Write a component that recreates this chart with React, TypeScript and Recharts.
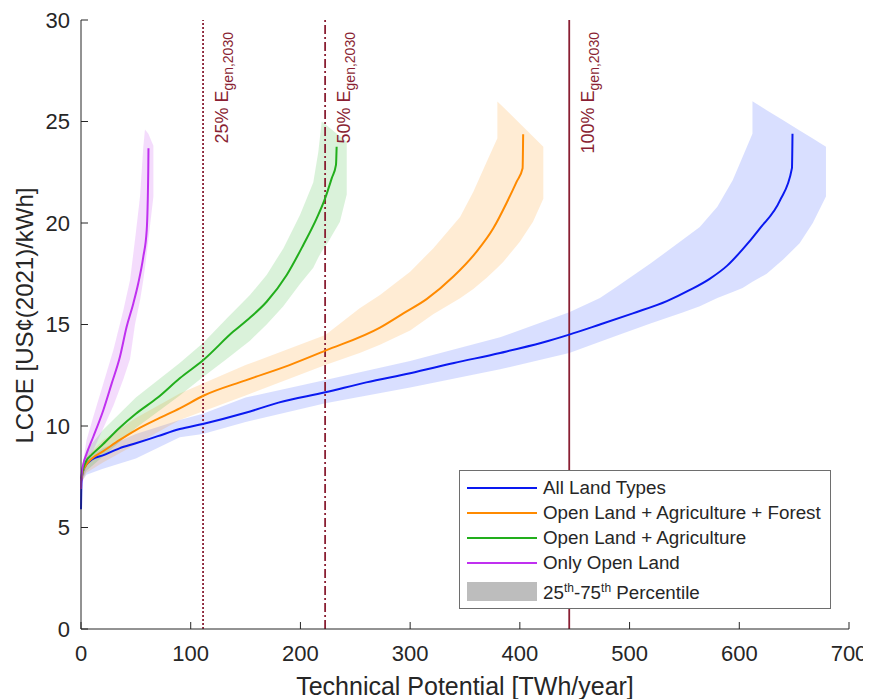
import React from "react";
import {
  ComposedChart,
  Line,
  Area,
  XAxis,
  YAxis,
  ReferenceLine,
  Legend,
  Label,
} from "recharts";

const xTicks = [0, 100, 200, 300, 400, 500, 600, 700];
const yTicks = [0, 5, 10, 15, 20, 25, 30];

// E_gen,2030 reference levels (TWh/year)
const refShares = ["25%", "50%", "100%"];
const refValues = [111.25, 222.5, 445];
const refDashes = ["2 2", "9 3 2 3", undefined];

const seriesNames = [
  "All Land Types",
  "Open Land + Agriculture + Forest",
  "Open Land + Agriculture",
  "Only Open Land",
];
const lineColors = ["#0a19f0", "#ff8a00", "#22ae1c", "#c030f0"];
const bandColors = ["#2040ff", "#ff8c00", "#22b022", "#c030f0"];

// median curves [x, y]
const allLand: [number, number][] = [
  [0, 5.9], [0.5, 7.3], [2, 7.8], [5, 8.1], [10, 8.35], [20, 8.55], [35, 8.9],
  [50, 9.15], [70, 9.5], [90, 9.85], [111, 10.1], [150, 10.65], [180, 11.15],
  [222.7, 11.66], [260, 12.15], [300, 12.6], [340, 13.1], [382, 13.6],
  [420, 14.1], [445, 14.5], [473, 15.0], [503, 15.55], [534, 16.15],
  [555, 16.7], [573, 17.25], [589, 17.9], [603, 18.7], [619, 19.75],
  [637, 21.1], [648, 22.7], [648.5, 24.4],
];
const openAgriForest: [number, number][] = [
  [0, 7.3], [2, 7.8], [5, 8.1], [10, 8.4], [20, 8.75], [35, 9.3], [50, 9.8],
  [70, 10.35], [90, 10.87], [111.5, 11.49], [150, 12.25], [190, 13.0],
  [222.7, 13.71], [272.5, 14.85], [293.8, 15.55], [315, 16.25], [339.4, 17.36],
  [360.6, 18.59], [375.8, 19.74], [388, 21.0], [397.1, 22.04], [402.5, 22.7],
  [403, 24.37],
];
const openAgri: [number, number][] = [
  [0, 7.4], [2, 7.9], [5, 8.3], [10, 8.6], [20, 9.1], [35, 9.9], [50, 10.6],
  [70, 11.4], [90, 12.35], [111.5, 13.25], [138.8, 14.65], [151, 15.2],
  [169.2, 16.12], [187.5, 17.44], [202.6, 18.92], [214.8, 20.23], [222.4, 21.2],
  [228.5, 22.2], [232.4, 22.86], [233, 23.76],
];
const openOnly: [number, number][] = [
  [0, 6.9], [0.5, 7.6], [2, 8.1], [5.2, 8.65], [11.2, 9.47], [20.4, 10.79],
  [28, 12.1], [35.5, 13.41], [41.6, 14.89], [47.7, 16.04], [52.2, 17.03],
  [56.8, 18.34], [59.9, 19.65], [61.3, 22.6], [61.5, 23.68],
];

// 25th-75th percentile bands [x, low, high]
const allLandBand: [number, number, number][] = [
  [0, 7.2, 7.9], [5, 7.6, 8.4], [20, 7.9, 8.9], [50, 8.4, 9.6], [90, 9.45, 10.3],
  [111, 9.6, 10.6], [150, 10.2, 11.4], [222.7, 11.12, 12.27], [300, 11.9, 13.2],
  [382, 12.79, 14.37], [445, 13.6, 15.6], [473, 14.15, 16.3], [488, 14.45, 16.85],
  [519, 15.05, 18.0], [549, 15.6, 19.2], [564, 15.9, 19.8], [580, 16.3, 20.8],
  [594, 16.6, 22.1], [603, 16.8, 23.25], [612, 17.1, 24.4], [612, 17.1, 26.0],
  [625, 17.5, 25.56], [640, 18.2, 25.06], [655, 19.0, 24.56], [667, 20.0, 24.16],
  [679, 21.3, 23.76],
];
const openAgriForestBand: [number, number, number][] = [
  [0, 7.1, 7.8], [5, 7.7, 8.5], [20, 8.2, 9.3], [50, 9.1, 10.4], [90, 10.3, 11.6],
  [150, 11.5, 13.0], [222.7, 13.0, 14.48], [254, 13.6, 15.8], [272.5, 14.0, 16.45],
  [300, 14.7, 17.6], [321, 15.5, 18.75], [345.5, 16.29, 20.3], [357.6, 16.75, 21.54],
  [369.8, 17.3, 23.02], [379.5, 17.8, 24.17], [379.5, 17.8, 25.98],
  [385, 18.09, 25.7], [400, 19.08, 24.9], [412, 20.06, 24.26], [421.4, 21.2, 23.76],
];
const openAgriBand: [number, number, number][] = [
  [0, 7.2, 7.9], [5, 7.8, 8.8], [20, 8.5, 9.8], [50, 9.9, 11.4], [90, 11.5, 13.1],
  [111.5, 12.43, 14.1], [132.8, 13.3, 15.3], [154, 14.2, 16.45], [169.2, 15.0, 17.44],
  [184.4, 15.9, 18.75], [199.6, 17.0, 20.4], [211.7, 17.8, 22.0], [216.3, 18.3, 23.5],
  [219.4, 18.6, 25.0], [225.4, 19.08, 24.74], [236, 20.06, 24.27], [242.2, 21.4, 24.0],
];
const openOnlyBand: [number, number, number][] = [
  [0, 7.0, 7.6], [5, 8.0, 9.3], [11.2, 8.8, 10.46], [20.4, 9.9, 12.1],
  [29.5, 11.0, 13.74], [38.6, 12.3, 15.7], [44.7, 13.3, 17.19], [49.2, 15.0, 19.16],
  [53.8, 16.2, 21.3], [56.8, 17.19, 23.76], [58.3, 17.8, 24.6], [61.4, 19.16, 24.4],
  [66, 21.3, 23.8],
];

const medians = [allLand, openAgriForest, openAgri, openOnly];
const bands = [allLandBand, openAgriForestBand, openAgriBand, openOnlyBand];

const font = "'Liberation Sans', Arial, Helvetica, sans-serif";
const axisColor = "#262626";
const refColor = "#8a1f33";

const BottomTick = (props: any) => {
  const { x, y, payload } = props;
  return (
    <g>
      <line x1={x} y1={y} x2={x} y2={y - 7} stroke={axisColor} />
      <text x={x} y={y + 32} textAnchor="middle" fontSize={22} fontFamily={font} fill={axisColor}>
        {payload.value}
      </text>
    </g>
  );
};

const LeftTick = (props: any) => {
  const { x, y, payload } = props;
  return (
    <g>
      <line x1={x} y1={y} x2={x + 7} y2={y} stroke={axisColor} />
      <text x={x - 11} y={y} dy="0.36em" textAnchor="end" fontSize={22} fontFamily={font} fill={axisColor}>
        {payload.value}
      </text>
    </g>
  );
};

const TopTick = (props: any) => (
  <line x1={props.x} y1={props.y} x2={props.x} y2={props.y + 7} stroke={axisColor} />
);

const RightTick = (props: any) => (
  <line x1={props.x} y1={props.y} x2={props.x - 7} y2={props.y} stroke={axisColor} />
);

const RefLabel = (props: any) => {
  const { viewBox, share } = props;
  const bx = viewBox.x + 25;
  const ty = viewBox.y + 12;
  return (
    <text
      x={bx}
      y={ty}
      transform={`rotate(-90, ${bx}, ${ty})`}
      textAnchor="end"
      fontSize={18}
      fontFamily={font}
      fill={refColor}
    >
      {share} E
      <tspan fontSize={14} dy={5}>gen,2030</tspan>
    </text>
  );
};

const LegendBox = () => (
  <div
    style={{
      position: "relative",
      width: 372,
      height: 139,
      boxSizing: "border-box",
      border: "1px solid #6e6e6e",
      background: "#fff",
      fontFamily: font,
      fontSize: 18.8,
      color: axisColor,
      lineHeight: "24px",
    }}
  >
    {seriesNames.map((name, i) => (
      <div key={name} style={{ position: "absolute", left: 0, top: 5 + i * 25, height: 24, width: 370 }}>
        <div style={{ position: "absolute", left: 7, top: 11, width: 70, height: 2, background: lineColors[i] }} />
        <span style={{ position: "absolute", left: 83, top: 0, whiteSpace: "nowrap" }}>{name}</span>
      </div>
    ))}
    <div style={{ position: "absolute", left: 7, top: 111, width: 70, height: 19, background: "#bdbdbd" }} />
    <span style={{ position: "absolute", left: 83, top: 110, whiteSpace: "nowrap" }}>
      25<sup style={{ fontSize: 12, verticalAlign: "7px", lineHeight: 0 }}>th</sup>-75
      <sup style={{ fontSize: 12, verticalAlign: "7px", lineHeight: 0 }}>th</sup> Percentile
    </span>
  </div>
);

export default function App() {
  return (
    <div style={{ width: 863, height: 691 }}>
      <ComposedChart width={863} height={691} margin={{ top: 12, right: 22, bottom: 0, left: 0 }}>
        <XAxis
          xAxisId="bottom"
          type="number"
          dataKey="x"
          domain={[0, 700]}
          ticks={xTicks}
          height={70}
          tickSize={0}
          tickMargin={0}
          tickLine={false}
          tick={<BottomTick />}
          axisLine={{ stroke: axisColor }}
        >
          <Label
            content={(p: any) => (
              <text
                x={p.viewBox.x + p.viewBox.width / 2}
                y={p.viewBox.y + 66}
                textAnchor="middle"
                fontSize={25}
                fontFamily={font}
                fill={axisColor}
              >
                Technical Potential [TWh/year]
              </text>
            )}
          />
        </XAxis>
        <XAxis
          xAxisId="top"
          orientation="top"
          type="number"
          dataKey="x"
          domain={[0, 700]}
          ticks={xTicks}
          height={0}
          tickSize={0}
          tickMargin={0}
          tickLine={false}
          tick={<TopTick />}
          axisLine={{ stroke: axisColor }}
        />
        <YAxis
          yAxisId="left"
          type="number"
          domain={[0, 30]}
          ticks={yTicks}
          width={73}
          tickSize={0}
          tickMargin={0}
          tickLine={false}
          tick={<LeftTick />}
          axisLine={{ stroke: axisColor }}
        >
          <Label
            content={(p: any) => {
              const cx = p.viewBox.x + 25;
              const cy = p.viewBox.y + p.viewBox.height / 2 - 9;
              return (
                <text
                  x={cx}
                  y={cy}
                  transform={`rotate(-90, ${cx}, ${cy})`}
                  textAnchor="middle"
                  fontSize={24}
                  fontFamily={font}
                  fill={axisColor}
                >
                  LCOE [US¢(2021)/kWh]
                </text>
              );
            }}
          />
        </YAxis>
        <YAxis
          yAxisId="right"
          orientation="right"
          type="number"
          domain={[0, 30]}
          ticks={yTicks}
          width={0}
          tickSize={0}
          tickMargin={0}
          tickLine={false}
          tick={<RightTick />}
          axisLine={{ stroke: axisColor }}
        />

        {bands.map((band, i) => (
          <Area
            key={"band" + i}
            xAxisId="bottom"
            yAxisId="left"
            data={band.map(([x, lo, hi]) => ({ x, range: [lo, hi] }))}
            dataKey="range"
            type="linear"
            stroke="none"
            fill={bandColors[i]}
            fillOpacity={0.17}
            activeDot={false}
            legendType="none"
            isAnimationActive={false}
          />
        ))}

        {refValues.map((v, i) => (
          <ReferenceLine
            key={"ref" + i}
            xAxisId="bottom"
            yAxisId="left"
            x={v}
            stroke={refColor}
            strokeWidth={1.8}
            strokeDasharray={refDashes[i]}
            label={<RefLabel share={refShares[i]} />}
          />
        ))}

        {medians.map((m, i) => (
          <Line
            key={"line" + i}
            xAxisId="bottom"
            yAxisId="left"
            data={m.map(([x, y]) => ({ x, y }))}
            dataKey="y"
            type="monotone"
            stroke={lineColors[i]}
            strokeWidth={2}
            dot={false}
            activeDot={false}
            legendType="none"
            isAnimationActive={false}
          />
        ))}

        <Legend
          layout="vertical"
          verticalAlign="middle"
          align="center"
          content={<LegendBox />}
          wrapperStyle={{ left: 451, top: 462, width: 372, height: 139 }}
        />
      </ComposedChart>
    </div>
  );
}
